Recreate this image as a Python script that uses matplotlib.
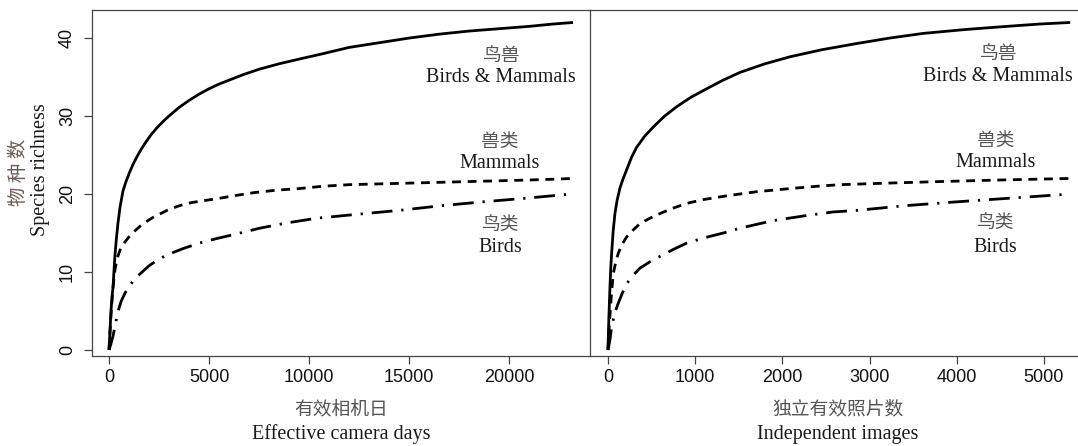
import numpy as np
import matplotlib
matplotlib.use('Agg')
import matplotlib.pyplot as plt

# accumulation curves
days = [0, 50, 100, 150, 200, 250, 300, 370, 450, 550, 700, 850, 1000, 1200, 1400,
        1600, 1800, 2100, 2400, 2700, 3000, 3500, 4000, 4500, 5000, 5500, 6000, 6700,
        7500, 8500, 9500, 10700, 12000, 13500, 15000, 16500, 18000, 19500, 21000,
        22200, 23200]
bm_days = [0, 2.5, 5.0, 6.8, 8.0, 10.2, 12.2, 14.3, 16.3, 18.3, 20.4, 21.6, 22.6, 23.8,
           24.8, 25.7, 26.5, 27.6, 28.5, 29.3, 30.0, 31.1, 32.0, 32.8, 33.5, 34.1, 34.6,
           35.3, 36.0, 36.7, 37.3, 38.0, 38.8, 39.4, 40.0, 40.5, 40.9, 41.2, 41.5, 41.8,
           42.0]

days_m = [0, 50, 100, 150, 200, 250, 300, 400, 550, 750, 1000, 1300, 1700, 2200, 2900,
          3400, 3900, 4600, 5400, 6300, 7300, 8400, 9500, 10700, 12000, 13500, 15000,
          16500, 18000, 19500, 21000, 22200, 23200]
mam_days = [0, 2.2, 4.5, 6.3, 8.0, 9.3, 10.3, 11.7, 12.8, 13.7, 14.5, 15.3, 16.2, 17.0,
            17.9, 18.4, 18.8, 19.1, 19.4, 19.8, 20.2, 20.5, 20.7, 21.0, 21.2, 21.3, 21.4,
            21.5, 21.6, 21.7, 21.8, 21.9, 22.0]

days_b = [0, 100, 200, 300, 380, 470, 600, 800, 1000, 1200, 1400, 1700, 2000, 2400,
          2900, 3300, 3700, 4500, 5400, 6400, 7500, 8900, 10400, 12400, 14500, 16600,
          18700, 21000, 23100]
bird_days = [0, 0.8, 1.8, 3.0, 4.1, 5.1, 6.2, 7.3, 8.1, 8.8, 9.4, 10.1, 10.8, 11.5,
             12.2, 12.6, 13.0, 13.7, 14.3, 14.9, 15.6, 16.3, 16.9, 17.4, 17.9, 18.5,
             19.0, 19.5, 20.0]

imgs = [0, 10, 23, 32, 42, 60, 80, 105, 138, 175, 214, 270, 329, 420, 520, 650, 788,
        950, 1132, 1320, 1514, 1800, 2087, 2450, 2852, 3230, 3616, 4100, 4572, 4950, 5300]
bm_imgs = [0, 4.0, 8.1, 10.5, 12.4, 15.3, 17.5, 19.2, 20.8, 22.0, 23.1, 24.7, 26.0,
           27.4, 28.6, 30.0, 31.2, 32.4, 33.5, 34.6, 35.6, 36.7, 37.6, 38.5, 39.3, 40.0,
           40.6, 41.1, 41.5, 41.8, 42.0]

imgs_m = [0, 10, 20, 40, 61, 90, 118, 160, 214, 290, 367, 480, 596, 750, 902, 1100,
          1322, 1510, 1705, 1900, 2087, 2400, 2661, 3200, 3807, 4500, 5300]
mam_imgs = [0, 2.0, 4.0, 7.2, 9.8, 11.3, 12.4, 13.5, 14.5, 15.4, 16.2, 16.9, 17.5, 18.2,
            18.8, 19.3, 19.7, 20.0, 20.3, 20.5, 20.7, 21.0, 21.2, 21.4, 21.6, 21.8, 22.0]

imgs_b = [0, 23, 42, 80, 118, 165, 214, 290, 367, 480, 596, 750, 902, 1110, 1322, 1510,
          1700, 1900, 2250, 2580, 2852, 3400, 3999, 4650, 5300]
bird_imgs = [0, 1.3, 3.0, 4.8, 6.0, 7.3, 8.5, 9.6, 10.5, 11.3, 12.0, 12.9, 13.7, 14.4,
             15.0, 15.6, 16.1, 16.6, 17.2, 17.7, 17.9, 18.5, 19.0, 19.5, 20.0]

xticks_days = [0, 5000, 10000, 15000, 20000]
xticks_imgs = [0, 1000, 2000, 3000, 4000, 5000]
yticks = [0, 10, 20, 30, 40]

serif = 'Liberation Serif'
cjk = 'Noto Sans CJK SC'
sans = 'Liberation Sans'
cn_col = '#555555'
en_col = '#1a1a1a'
lw = 2.0
dash = (0, (3.2, 2.4))
dashdot = (0, (7.5, 3.2, 0.8, 3.2))

fig = plt.figure(figsize=(10.78, 4.46), dpi=100)
ax1 = fig.add_axes([92/1078, 90/446, 498/1078, 346/446])
ax2 = fig.add_axes([590/1078, 90/446, 488/1078, 346/446])


def style(ax, xt):
    for s in ax.spines.values():
        s.set_color('#444444')
        s.set_linewidth(0.9)
    ax.set_xticks(xt)
    ax.set_xticklabels([str(t) for t in xt], fontfamily=sans, fontsize=13, color='#111111')
    ax.tick_params(axis='both', direction='out', length=5.5, width=0.9, color='#444444')
    ax.tick_params(axis='x', pad=4)


# left panel: effective camera days
ax1.plot(days, bm_days, color='k', lw=lw, solid_capstyle='butt')
ax1.plot(days_m, mam_days, color='k', lw=lw, linestyle=dash, dash_capstyle='butt')
ax1.plot(days_b, bird_days, color='k', lw=lw, linestyle=dashdot, dash_capstyle='butt')
ax1.set_xlim(-850, 24050)
ax1.set_ylim(-0.77, 43.6)
style(ax1, xticks_days)
ax1.spines['right'].set_visible(False)
ax1.set_yticks(yticks)
ax1.set_yticklabels([str(t) for t in yticks], fontfamily=sans, fontsize=13, color='#111111')
for lab in ax1.get_yticklabels():
    lab.set_rotation(90)
    lab.set_va('center')
ax1.tick_params(axis='y', pad=6)

# right panel: independent images
ax2.plot(imgs, bm_imgs, color='k', lw=lw, solid_capstyle='butt')
ax2.plot(imgs_m, mam_imgs, color='k', lw=lw, linestyle=dash, dash_capstyle='butt')
ax2.plot(imgs_b, bird_imgs, color='k', lw=lw, linestyle=dashdot, dash_capstyle='butt')
ax2.set_xlim(-206, 5390)
ax2.set_ylim(-0.77, 43.6)
style(ax2, xticks_imgs)
ax2.set_yticks([])
ax2.spines['right'].set_visible(False)

# curve labels
def curve_label(ax, x, ycn, yen, cn, en):
    ax.text(x, ycn, cn, fontfamily=cjk, fontsize=13.5, color=cn_col, ha='center', va='center')
    ax.text(x, yen, en, fontfamily=serif, fontsize=14.5, color=en_col, ha='center', va='center')

curve_label(ax1, 19600, 37.8, 34.9, '鸟兽', 'Birds & Mammals')
curve_label(ax1, 19550, 26.7, 23.9, '兽类', 'Mammals')
curve_label(ax1, 19550, 16.1, 13.2, '鸟类', 'Birds')
curve_label(ax2, 4470, 38.0, 35.1, '鸟兽', 'Birds & Mammals')
curve_label(ax2, 4450, 26.9, 24.0, '兽类', 'Mammals')
curve_label(ax2, 4440, 16.3, 13.2, '鸟类', 'Birds')

# axis titles
fig.text(341/1078, 1 - 409/446, '有效相机日', fontfamily=cjk, fontsize=13.5, color=cn_col,
         ha='center', va='center')
fig.text(341/1078, 1 - 434/446, 'Effective camera days', fontfamily=serif, fontsize=14.5,
         color=en_col, ha='center', va='center')
fig.text(838/1078, 1 - 409/446, '独立有效照片数', fontfamily=cjk, fontsize=13.5, color=cn_col,
         ha='center', va='center')
fig.text(838/1078, 1 - 434/446, 'Independent images', fontfamily=serif, fontsize=14.5,
         color=en_col, ha='center', va='center')
fig.text(19/1078, 1 - 172/446, '物 种 数', fontfamily=[cjk, 'DejaVu Sans'], fontsize=14,
         color='#6e5a52', ha='center', va='center', rotation=90)
fig.text(41/1078, 1 - 170/446, 'Species richness', fontfamily=serif, fontsize=14.5,
         color=en_col, ha='center', va='center', rotation=90)

fig.savefig('out.png', dpi=100)
